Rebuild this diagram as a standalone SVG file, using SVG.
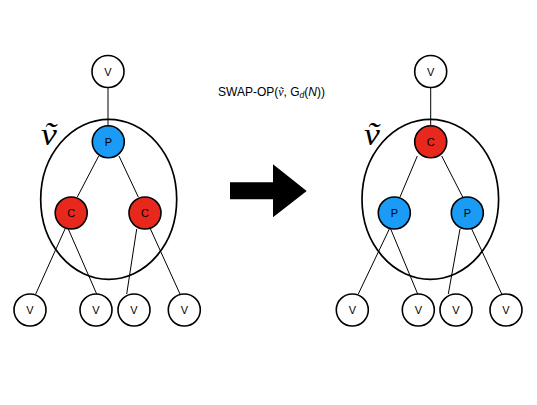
<svg xmlns="http://www.w3.org/2000/svg" width="537" height="405" viewBox="0 0 537 405">
<style>
.n{stroke:#000;stroke-width:1.6}
.v{fill:#fff}
.p{fill:#1A9BF5}
.c{fill:#E8281C}
.t{font-family:"Liberation Sans",Arial,sans-serif;font-size:11px;text-anchor:middle;fill:#000}
.e{fill:none;stroke:#000;stroke-width:1.7}
.l{stroke:#000;stroke-width:1;fill:none}
.tv{font-family:"Liberation Serif","DejaVu Serif",serif;font-style:italic;font-size:31px;fill:#000}
</style>
<rect width="537" height="405" fill="#fff"/>
<g id="connectors">
<path class="l" d="M108 87V126M98.7 156L77.3 197M119 156L138.3 197M65 229L35.7 294M68.3 229L96.7 294M136.7 229L126.7 294M150 228L180 294"/>
<path class="l" d="M430.7 87V126M417.3 156L400 197M441.7 156L462.7 197M389.3 229L358.3 294M390.7 229L417.7 294M460 229L448.3 294M471.7 229L501.7 294"/>
<polygon points="230,182.3 273,182.3 273,164.3 306.7,191 273,217.3 273,199.3 230,199.3" fill="#000"/>
</g>
<g id="group-left">
<ellipse class="e" cx="108.7" cy="199.3" rx="68" ry="80"/>
<text class="tv" x="41" y="145" transform="translate(41 145) scale(1.15 1) translate(-41 -145)">ṽ</text>
</g>
<g id="group-right">
<ellipse class="e" cx="430.3" cy="199.3" rx="68.3" ry="80"/>
<text class="tv" x="364" y="145" transform="translate(364 145) scale(1.15 1) translate(-364 -145)">ṽ</text>
</g>
<g id="L-top"><circle class="n v" cx="108" cy="71.5" r="16"/><text class="t" x="108" y="75.5">V</text></g>
<g id="L-P"><circle class="n p" cx="108.3" cy="141.8" r="16"/><text class="t" x="108.3" y="145.8">P</text></g>
<g id="L-C1"><circle class="n c" cx="71.2" cy="213" r="16"/><text class="t" x="71.2" y="217">C</text></g>
<g id="L-C2"><circle class="n c" cx="145" cy="213" r="16"/><text class="t" x="145" y="217">C</text></g>
<g id="L-V1"><circle class="n v" cx="30" cy="310" r="16"/><text class="t" x="30" y="314">V</text></g>
<g id="L-V2"><circle class="n v" cx="96" cy="310" r="16"/><text class="t" x="96" y="314">V</text></g>
<g id="L-V3"><circle class="n v" cx="134" cy="310" r="16"/><text class="t" x="134" y="314">V</text></g>
<g id="L-V4"><circle class="n v" cx="184.3" cy="310" r="16"/><text class="t" x="184.3" y="314">V</text></g>
<g id="R-top"><circle class="n v" cx="430.7" cy="71.5" r="16"/><text class="t" x="430.7" y="75.5">V</text></g>
<g id="R-C"><circle class="n c" cx="430.7" cy="141.8" r="16"/><text class="t" x="430.7" y="145.8">C</text></g>
<g id="R-P1"><circle class="n p" cx="394.3" cy="213" r="16"/><text class="t" x="394.3" y="217">P</text></g>
<g id="R-P2"><circle class="n p" cx="467.3" cy="213" r="16"/><text class="t" x="467.3" y="217">P</text></g>
<g id="R-V1"><circle class="n v" cx="352.3" cy="310" r="16"/><text class="t" x="352.3" y="314">V</text></g>
<g id="R-V2"><circle class="n v" cx="418.3" cy="310" r="16"/><text class="t" x="418.3" y="314">V</text></g>
<g id="R-V3"><circle class="n v" cx="456" cy="310" r="16"/><text class="t" x="456" y="314">V</text></g>
<g id="R-V4"><circle class="n v" cx="506" cy="310" r="16"/><text class="t" x="506" y="314">V</text></g>
<g id="label">
<text x="218" y="96" font-family="Liberation Sans,Arial,sans-serif" font-size="12" fill="#000">SWAP-OP(<tspan font-family="Liberation Serif,DejaVu Serif,serif" font-style="italic">ṽ</tspan>, G<tspan font-style="italic" font-size="8.5" dy="2">d</tspan><tspan dy="-2">(</tspan><tspan font-style="italic">N</tspan>))</text>
</g>
</svg>
